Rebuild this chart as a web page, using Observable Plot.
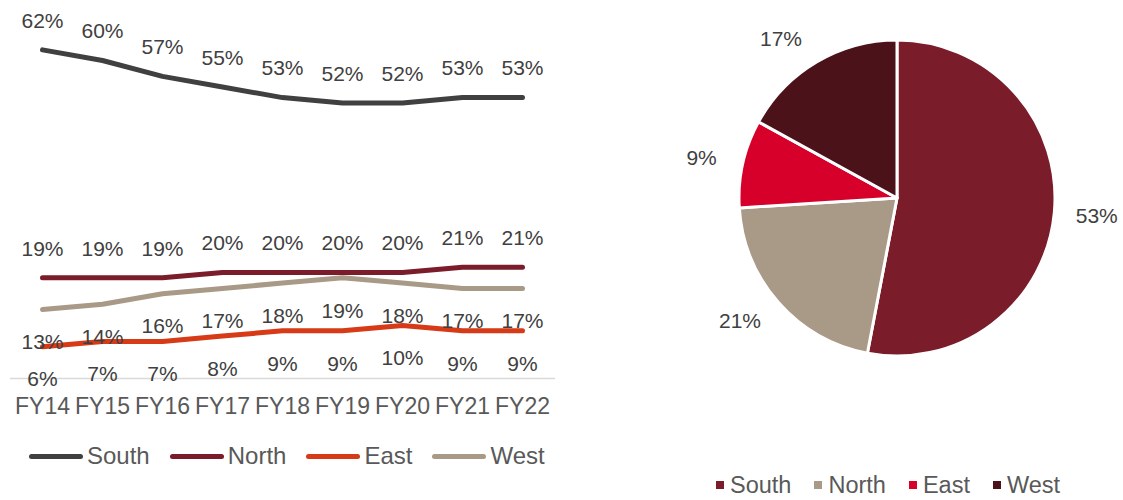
<!DOCTYPE html>
<html><head><meta charset="utf-8">
<script src="https://cdn.jsdelivr.net/npm/d3@7"></script>
<script src="https://cdn.jsdelivr.net/npm/@observablehq/plot@0.6"></script>
<style>
body{margin:0;background:#fff;font-family:"Liberation Sans",Arial,sans-serif;}
#wrap{position:relative;width:1123px;height:500px;overflow:hidden;}
#line{position:absolute;left:0;top:0;}
#pie{position:absolute;left:600px;top:0;}
.legend{position:absolute;display:flex;align-items:center;color:#595959;font-size:24px;line-height:22px;white-space:nowrap;}
.legend .item{display:flex;align-items:center;}
</style></head><body>
<div id="wrap"><div id="line"></div><div id="lineLegend" class="legend" style="left:29px;top:445px"></div><div id="pie"></div><div id="pieLegend" class="legend" style="left:716px;top:474px;font-size:23.5px"></div></div>
<script>
const years = ["FY14","FY15","FY16","FY17","FY18","FY19","FY20","FY21","FY22"];
const regions = ["South","North","East","West"];
const south = [62,60,57,55,53,52,52,53,53];
const north = [19,19,19,20,20,20,20,21,21];
const east  = [6,7,7,8,9,9,10,9,9];
const west  = [13,14,16,17,18,19,18,17,17];
const lineColors = ["#404040","#7B1C2A","#D63A16","#A89A87"];
const pieShare = [53,21,9,17];
const pieColors = ["#7B1C2A","#A89A87","#D7002A","#4B121A"];

const rows = [];
[south, north, east, west].forEach((vals, i) => vals.forEach((v, j) => rows.push({region: regions[i], year: years[j], value: v})));
const dyBy = {South: -29, North: -29, East: 33, West: 33};

const linePlot = Plot.plot({
  width: 560, height: 430, marginLeft: 10, marginRight: 5, marginTop: 0, marginBottom: 52,
  style: {fontFamily: '"Liberation Sans", Arial, sans-serif', fontSize: "21px", color: "#595959", background: "transparent", overflow: "visible"},
  x: {type: "point", domain: years, range: [38, 525], padding: 0, label: null},
  y: {domain: [0, 70], range: [378, 378 - 70 * 5.3], axis: null},
  color: {domain: regions, range: lineColors},
  marks: [
    Plot.ruleY([0], {stroke: "#D9D9D9", strokeWidth: 1.5}),
    Plot.axisX({tickSize: 0, tickPadding: 19, fontSize: 23, fill: "#595959", label: null}),
    Plot.line(rows, {x: "year", y: "value", z: "region", stroke: "region", strokeWidth: 5, strokeLinecap: "round", strokeLinejoin: "round"}),
    ...regions.map(r => Plot.text(rows.filter(d => d.region === r), {x: "year", y: "value", text: d => d.value + "%", dy: dyBy[r], fill: "#404040", fontSize: 21}))
  ]
});
document.getElementById("line").append(linePlot);

// line legend
const ll = document.getElementById("lineLegend");
regions.forEach((r, i) => {
  const it = document.createElement("div");
  it.className = "item";
  it.style.marginRight = i < regions.length - 1 ? "20px" : "0";
  it.innerHTML = `<span style="display:inline-block;width:54px;height:5px;border-radius:3px;background:${lineColors[i]};margin-right:4px"></span><span>${r}</span>`;
  ll.append(it);
});

// pie
const pieData = regions.map((r, i) => ({region: r, share: pieShare[i]}));
const arcs = d3.pie().sort(null).value(d => d.share)(pieData);
const pieLabels = arcs.map(a => {
  const m = (a.startAngle + a.endAngle) / 2;
  const s = Math.sin(m), c = Math.cos(m);
  return {x: s * 170 / 158 + Math.sign(s) * 30 / 158, y: c * 185 / 158, text: a.data.share + "%"};
});
function pieMark(index, scales, values, dimensions, context) {
  const X = scales && scales.x ? scales.x : (v => 297 + v * 158);
  const Y = scales && scales.y ? scales.y : (v => 198 - v * 158);
  const cx = X(0), cy = Y(0), r = X(1) - X(0);
  const g = d3.create("svg:g").attr("transform", `translate(${cx},${cy})`);
  const arc = d3.arc().innerRadius(0).outerRadius(r);
  g.selectAll("path").data(arcs).join("path")
    .attr("d", arc).attr("fill", (d, i) => pieColors[i])
    .attr("stroke", "#fff").attr("stroke-width", 3).attr("stroke-linejoin", "round");
  return g.node();
}
const piePlot = Plot.plot({
  width: 523, height: 470, margin: 0,
  style: {fontFamily: '"Liberation Sans", Arial, sans-serif', fontSize: "21px", background: "transparent", overflow: "visible"},
  x: {domain: [-1, 1], range: [297 - 158, 297 + 158], axis: null},
  y: {domain: [-1, 1], range: [198 + 158, 198 - 158], axis: null},
  marks: [
    pieMark,
    Plot.text(pieLabels, {x: "x", y: "y", text: "text", fill: "#404040", fontSize: 21})
  ]
});
document.getElementById("pie").append(piePlot);

// pie legend
const pl = document.getElementById("pieLegend");
regions.forEach((r, i) => {
  const it = document.createElement("div");
  it.className = "item";
  it.style.marginRight = i < regions.length - 1 ? "23px" : "0";
  it.innerHTML = `<span style="display:inline-block;width:8px;height:8px;background:${pieColors[i]};margin-right:6px"></span><span>${r}</span>`;
  pl.append(it);
});
</script>
</body></html>
